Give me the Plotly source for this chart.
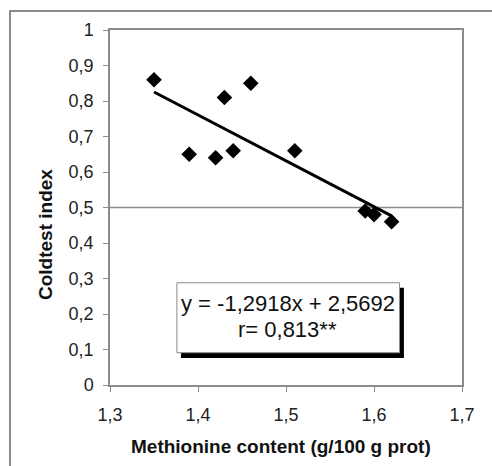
import plotly.graph_objects as go

methionine = [1.35, 1.39, 1.42, 1.43, 1.44, 1.46, 1.51, 1.59, 1.60, 1.62]
coldtest = [0.86, 0.65, 0.64, 0.81, 0.66, 0.85, 0.66, 0.49, 0.48, 0.46]
slope = -1.2918
intercept = 2.5692
trend_x = [min(methionine), max(methionine)]
trend_y = [slope * v + intercept for v in trend_x]
x_ticks = [1.3, 1.4, 1.5, 1.6, 1.7]
x_tick_labels = ["1,3", "1,4", "1,5", "1,6", "1,7"]
y_ticks = [0, 0.1, 0.2, 0.3, 0.4, 0.5, 0.6, 0.7, 0.8, 0.9, 1.0]
y_tick_labels = ["0", "0,1", "0,2", "0,3", "0,4", "0,5", "0,6", "0,7", "0,8", "0,9", "1"]
eq_text = "y = -1,2918x + 2,5692"
r_text = "r= 0,813**"

FONT = "Liberation Sans, Arial, sans-serif"
AX = "#8c8c8c"
PW, PH = 352.0, 355.0  # plot area size in px

fig = go.Figure()
fig.add_trace(go.Scatter(x=trend_x, y=trend_y, mode="lines",
                         line=dict(color="black", width=3), showlegend=False,
                         hoverinfo="skip"))
fig.add_trace(go.Scatter(x=methionine, y=coldtest, mode="markers",
                         marker=dict(symbol="diamond", size=12, color="black"),
                         showlegend=False))

# reference line at 0.5
fig.add_shape(type="line", xref="x", yref="y", x0=1.3, x1=1.7, y0=0.5, y1=0.5,
              line=dict(color=AX, width=1.5), layer="below")
# text box shadow and box
fig.add_shape(type="rect", xref="x", yref="y", x0=1.3806, x1=1.6340, y0=0.076, y1=0.274,
              line=dict(width=0), fillcolor="black")
fig.add_shape(type="rect", xref="x", yref="y", x0=1.376, x1=1.629, y0=0.091, y1=0.288,
              line=dict(color=AX, width=1), fillcolor="white")
fig.add_annotation(x=1.502, y=0.231, xref="x", yref="y", text=eq_text, showarrow=False,
                   xanchor="center", yanchor="middle",
                   font=dict(family=FONT, size=22, color="#111"))
fig.add_annotation(x=1.502, y=0.155, xref="x", yref="y", text=r_text, showarrow=False,
                   xanchor="center", yanchor="middle",
                   font=dict(family=FONT, size=22, color="#111"))

# axis titles
fig.add_annotation(x=(281 - 110) / PW, y=(385 - 446) / PH, xref="paper", yref="paper",
                   xanchor="center", yanchor="middle",
                   text="<b>Methionine content (g/100 g prot)</b>",
                   showarrow=False, font=dict(family=FONT, size=19, color="#111"))
fig.add_annotation(x=(45 - 110) / PW, y=(385 - 235) / PH, xref="paper", yref="paper",
                   xanchor="center", yanchor="middle",
                   text="<b>Coldtest index</b>", showarrow=False, textangle=-90,
                   font=dict(family=FONT, size=19, color="#111"))

# outer border (left and top visible)
fig.add_shape(type="rect", xref="paper", yref="paper", x0=(10 - 110) / PW, x1=1.2,
              y0=(385 - 11) / PH, y1=-0.5, line=dict(color="#666", width=1.5))

fig.update_layout(
    width=492, height=466,
    margin=dict(l=110, r=30, t=30, b=81),
    paper_bgcolor="white", plot_bgcolor="white",
    font=dict(family=FONT, size=18, color="#222"),
    xaxis=dict(range=[1.3, 1.7], tickvals=x_ticks, ticktext=x_tick_labels,
               showgrid=False, zeroline=False, showline=True, mirror=True,
               linecolor=AX, linewidth=1.5, ticks="outside", ticklen=5, tickcolor=AX,
               ticklabelstandoff=8, tickfont=dict(size=18)),
    yaxis=dict(range=[0, 1], tickvals=y_ticks, ticktext=y_tick_labels,
               showgrid=False, zeroline=False, showline=True, mirror=True,
               linecolor=AX, linewidth=1.5, ticks="outside", ticklen=5, tickcolor=AX,
               ticklabelstandoff=6, tickfont=dict(size=18)),
)
fig.write_html("out.html", config={"displayModeBar": False})
